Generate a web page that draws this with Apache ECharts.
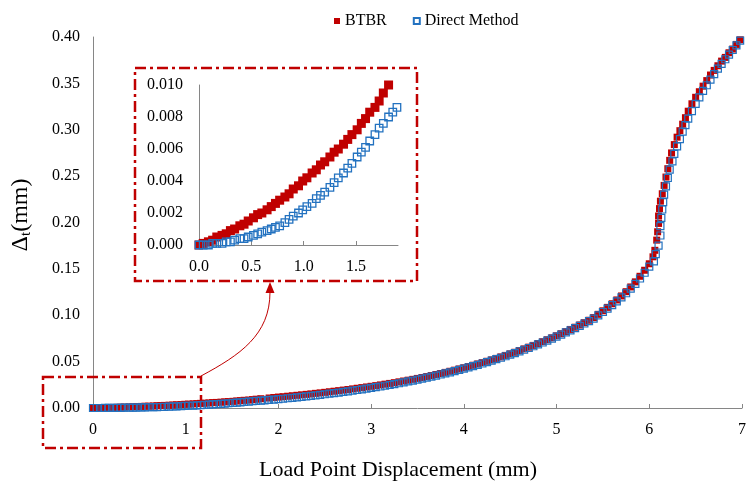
<!DOCTYPE html>
<html>
<head>
<meta charset="utf-8">
<script src="https://cdn.jsdelivr.net/npm/echarts@6/dist/echarts.min.js"></script>
<style>
  html, body { margin: 0; padding: 0; background: #fff; }
  #chart { width: 749px; height: 486px; }
</style>
</head>
<body>
<div id="chart"></div>
<script>
// inset (0 - 1.9 mm)
const insetX = [0.00,0.04,0.09,0.13,0.17,0.22,0.26,0.30,0.34,0.39,0.43,0.47,0.52,0.56,0.60,0.65,0.69,0.73,0.77,0.82,
  0.86,0.90,0.95,0.99,1.03,1.08,1.12,1.16,1.20,1.25,1.29,1.33,1.38,1.42,1.46,1.51,1.55,1.59,1.63,1.68,1.72,1.76,1.81,1.85,1.89];
const btbrInsetY = [0.0000,0.0001,0.0002,0.0003,0.0005,0.0006,0.0007,0.0009,0.0010,0.0012,0.0013,0.0015,0.0017,0.0019,0.0020,
  0.0022,0.0024,0.0026,0.0028,0.0030,0.0032,0.0035,0.0037,0.0040,0.0042,0.0045,0.0047,0.0050,0.0052,0.0055,0.0058,0.0060,
  0.0063,0.0066,0.0069,0.0072,0.0076,0.0079,0.0083,0.0086,0.0090,0.0095,0.0100];
const directInsetY = [0.0000,0.0000,0.0000,0.0001,0.0001,0.0001,0.0002,0.0002,0.0003,0.0004,0.0004,0.0005,0.0006,0.0007,0.0008,
  0.0009,0.0010,0.0011,0.0012,0.0014,0.0016,0.0018,0.0020,0.0022,0.0024,0.0026,0.0029,0.0031,0.0033,0.0036,0.0039,0.0042,
  0.0045,0.0048,0.0051,0.0055,0.0058,0.0061,0.0065,0.0069,0.0073,0.0076,0.0080,0.0083,0.0086];

// main curve, 1.9 - 6.0 mm
const tailX = [1.90,1.95,2.00,2.05,2.10,2.15,2.20,2.25,2.30,2.35,2.40,2.45,2.50,2.55,2.60,2.65,2.70,2.75,2.80,2.85,2.90,2.95,
  3.00,3.05,3.10,3.15,3.20,3.25,3.30,3.35,3.40,3.45,3.50,3.55,3.60,3.65,3.70,3.75,3.80,3.85,3.90,3.95,4.00,4.05,4.10,4.15,
  4.20,4.25,4.30,4.35,4.40,4.45,4.50,4.55,4.60,4.65,4.70,4.75,4.80,4.85,4.90,4.95,5.00,5.05,5.10,5.15,5.20,5.25,5.30,5.35,
  5.40,5.45,5.50,5.55,5.60,5.65,5.70,5.75,5.80,5.85,5.90,5.95,6.00];
const btbrTailY = [0.0108,0.0113,0.0118,0.0122,0.0127,0.0132,0.0137,0.0142,0.0147,0.0152,0.0158,0.0163,0.0169,0.0175,0.0181,
  0.0187,0.0193,0.0199,0.0206,0.0213,0.0220,0.0227,0.0234,0.0241,0.0249,0.0257,0.0265,0.0273,0.0282,0.0291,0.0300,0.0309,
  0.0319,0.0329,0.0339,0.0350,0.0361,0.0372,0.0384,0.0396,0.0408,0.0421,0.0434,0.0447,0.0461,0.0475,0.0489,0.0504,0.0519,
  0.0535,0.0551,0.0567,0.0584,0.0601,0.0619,0.0637,0.0656,0.0675,0.0695,0.0715,0.0736,0.0757,0.0779,0.0801,0.0824,0.0847,
  0.0871,0.0895,0.0920,0.0946,0.0975,0.1010,0.1048,0.1085,0.1124,0.1165,0.1208,0.1254,0.1305,0.1360,0.1420,0.1485,0.1555];
const directTailY = [0.0087,0.0091,0.0096,0.0100,0.0105,0.0110,0.0115,0.0120,0.0125,0.0131,0.0137,0.0142,0.0148,0.0154,0.0160,
  0.0166,0.0173,0.0180,0.0187,0.0194,0.0201,0.0208,0.0216,0.0224,0.0232,0.0240,0.0249,0.0258,0.0267,0.0276,0.0286,0.0296,
  0.0306,0.0316,0.0327,0.0338,0.0349,0.0361,0.0373,0.0385,0.0398,0.0411,0.0424,0.0437,0.0451,0.0465,0.0480,0.0495,0.0510,
  0.0526,0.0542,0.0558,0.0575,0.0592,0.0610,0.0628,0.0647,0.0666,0.0686,0.0706,0.0727,0.0748,0.0770,0.0792,0.0815,0.0838,
  0.0862,0.0886,0.0911,0.0937,0.0964,0.0998,0.1035,0.1072,0.1110,0.1150,0.1192,0.1237,0.1286,0.1339,0.1396,0.1458,0.1525];

// snap-through and the end (x, y)
const btbrTop = [[6.04,0.163],[6.06,0.170],[6.08,0.181],[6.09,0.190],[6.10,0.199],[6.10,0.207],[6.11,0.215],[6.12,0.223],
  [6.14,0.231],[6.16,0.240],[6.18,0.249],[6.20,0.258],[6.22,0.267],[6.24,0.275],[6.27,0.284],[6.30,0.292],[6.33,0.299],
  [6.36,0.306],[6.39,0.313],[6.42,0.320],[6.46,0.328],[6.50,0.335],[6.54,0.341],[6.58,0.347],[6.62,0.353],[6.66,0.359],
  [6.70,0.364],[6.74,0.369],[6.78,0.374],[6.82,0.378],[6.86,0.383],[6.90,0.387],[6.94,0.392],[6.98,0.397]];
const directTop = [[6.05,0.158],[6.07,0.166],[6.10,0.175],[6.12,0.186],[6.12,0.196],[6.13,0.205],[6.14,0.214],[6.15,0.222],
  [6.16,0.230],[6.18,0.239],[6.20,0.248],[6.22,0.257],[6.25,0.266],[6.27,0.274],[6.30,0.282],[6.33,0.290],[6.36,0.298],
  [6.39,0.305],[6.42,0.312],[6.46,0.320],[6.50,0.328],[6.54,0.335],[6.58,0.342],[6.62,0.348],[6.66,0.354],[6.70,0.360],
  [6.74,0.366],[6.78,0.371],[6.82,0.376],[6.86,0.381],[6.90,0.386],[6.94,0.391],[6.98,0.396]];

const seriesNames = ["BTBR", "Direct Method"];

function pairs(xs, ys) {
  return ys.map((y, i) => [xs[i], y]);
}

const btbrInset = pairs(insetX, btbrInsetY);
const directInset = pairs(insetX, directInsetY);
const btbrMain = btbrInset.concat(pairs(tailX, btbrTailY), btbrTop);
const directMain = directInset.concat(pairs(tailX, directTailY), directTop);

const RED = "#c00000";
const BLUE = "#2372c0";
const AXIS = "#868686";
const FONT = "Liberation Serif";

const labelStyle = { color: "#000", fontFamily: FONT, fontSize: 16 };

let myChart = echarts.init(document.getElementById("chart"));

let option = {
  animation: false,
  backgroundColor: "#fff",
  legend: {
    left: 329,
    top: 8,
    itemWidth: 6,
    itemHeight: 6,
    itemGap: 26,
    textStyle: { color: "#000", fontFamily: FONT, fontSize: 16 },
    data: [
      { name: seriesNames[0], icon: "rect" },
      { name: seriesNames[1], icon: "rect" }
    ]
  },
  grid: [
    { left: 93, right: 2, top: 37, bottom: 78 },
    { left: 199, top: 85, width: 199, height: 160 }
  ],
  xAxis: [
    {
      type: "value", gridIndex: 0, min: 0, max: 7, interval: 1,
      axisLine: { lineStyle: { color: AXIS, width: 1 } },
      axisTick: { show: true, inside: true, length: 4, lineStyle: { color: AXIS } },
      splitLine: { show: false },
      axisLabel: Object.assign({ margin: 14 }, labelStyle)
    },
    {
      type: "value", gridIndex: 1, min: 0, max: 1.9, interval: 0.5,
      axisLine: { lineStyle: { color: AXIS, width: 1 } },
      axisTick: { show: true, inside: true, length: 4, lineStyle: { color: AXIS } },
      splitLine: { show: false },
      axisLabel: Object.assign({ margin: 14, showMaxLabel: false, formatter: v => v.toFixed(1) }, labelStyle)
    }
  ],
  yAxis: [
    {
      type: "value", gridIndex: 0, min: 0, max: 0.4, interval: 0.05,
      axisLine: { show: true, lineStyle: { color: AXIS, width: 1 } },
      axisTick: { show: false },
      splitLine: { show: false },
      axisLabel: Object.assign({ margin: 13, formatter: v => v.toFixed(2) }, labelStyle)
    },
    {
      type: "value", gridIndex: 1, min: 0, max: 0.01, interval: 0.002,
      axisLine: { show: true, lineStyle: { color: AXIS, width: 1 } },
      axisTick: { show: false },
      splitLine: { show: false },
      axisLabel: Object.assign({ margin: 16, formatter: v => v.toFixed(3) }, labelStyle)
    }
  ],
  series: [
    {
      name: seriesNames[0], type: "scatter", xAxisIndex: 0, yAxisIndex: 0,
      symbol: "rect", symbolSize: 7,
      itemStyle: { color: RED, opacity: 1 },
      data: btbrMain
    },
    {
      name: seriesNames[1], type: "scatter", xAxisIndex: 0, yAxisIndex: 0,
      symbol: "rect", symbolSize: 7,
      itemStyle: { color: "rgba(255,255,255,0)", borderColor: BLUE, borderWidth: 1.2, opacity: 1 },
      data: directMain
    },
    {
      name: seriesNames[0], type: "scatter", xAxisIndex: 1, yAxisIndex: 1,
      symbol: "rect", symbolSize: 9,
      itemStyle: { color: RED, opacity: 1 },
      data: btbrInset
    },
    {
      name: seriesNames[1], type: "scatter", xAxisIndex: 1, yAxisIndex: 1,
      symbol: "rect", symbolSize: 7.5,
      itemStyle: { color: "rgba(255,255,255,0)", borderColor: BLUE, borderWidth: 1.3, opacity: 1 },
      data: directInset
    }
  ],
  graphic: [
    // zoom frame around the inset
    {
      type: "rect", z: 1, silent: true,
      shape: { x: 135, y: 68, width: 282, height: 213 },
      style: { fill: null, stroke: RED, lineWidth: 2.5, lineDash: [11, 4, 3, 4] }
    },
    // frame around the zoomed region on the main plot
    {
      type: "rect", z: 1, silent: true,
      shape: { x: 43, y: 377, width: 158, height: 71 },
      style: { fill: null, stroke: RED, lineWidth: 2.5, lineDash: [11, 4, 3, 4] }
    },
    {
      type: "bezierCurve", z: 1, silent: true,
      shape: { x1: 201, y1: 376, cpx1: 240, cpy1: 355, cpx2: 270, cpy2: 335, x2: 270, y2: 292 },
      style: { fill: null, stroke: RED, lineWidth: 1 }
    },
    {
      type: "polygon", z: 1, silent: true,
      shape: { points: [[270, 282], [265.5, 293], [274.5, 293]] },
      style: { fill: RED }
    },
    // axis titles
    {
      type: "text", x: 398, y: 470, silent: true,
      style: { text: "Load Point Displacement (mm)", font: "22px " + FONT, fill: "#000", align: "center", verticalAlign: "middle" }
    },
    {
      type: "text", x: 21, y: 215, rotation: Math.PI / 2, silent: true,
      style: {
        text: "{a|Δ}{s|t}{a|(mm)}", fill: "#000", align: "center", verticalAlign: "middle",
        rich: {
          a: { fontFamily: FONT, fontSize: 24, lineHeight: 26, fill: "#000" },
          s: { fontFamily: FONT, fontSize: 15, lineHeight: 15, verticalAlign: "bottom", fill: "#000" }
        }
      }
    }
  ]
};

myChart.setOption(option);
window.addEventListener("resize", () => {
  myChart.resize();
});
</script>
</body>
</html>
